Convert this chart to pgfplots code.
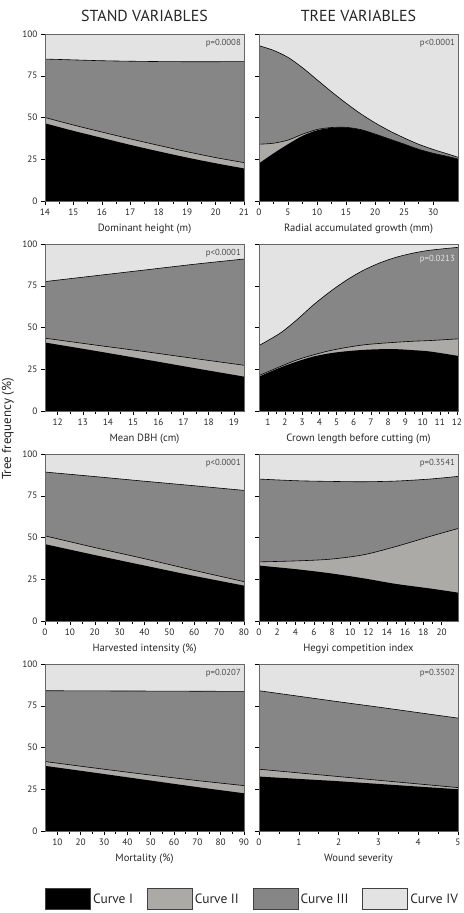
\documentclass[border=0pt]{standalone}
\usepackage{fontspec}
\setmainfont{PT Sans}
\usepackage{pgfplots}
\pgfplotsset{compat=1.18}
\usepackage{pgfplotstable}

\definecolor{cI}{HTML}{000000}
\definecolor{cII}{HTML}{ACAAA7}
\definecolor{cIII}{HTML}{868686}
\definecolor{cIV}{HTML}{E3E3E3}

% boundaries of the stacked frequency curves: b1 = top of Curve I,
% b2 = top of Curve II, b3 = top of Curve III (Curve IV reaches 100)
\pgfplotstableread{
x   b1   b2   b3
14  46.5 50.0 85.0
15  42.0 45.5 84.5
16  37.8 41.3 84.0
17  33.6 37.2 83.7
18  29.7 33.3 83.5
19  26.0 29.5 83.4
20  22.6 26.0 83.4
21  19.5 23.0 83.5
}\tabA
\pgfplotstableread{
x    b1   b2   b3
0    22.5 34.0 93.0
2.5  28.5 34.6 90.2
5    34.0 36.5 86.0
7.5  39.0 40.0 79.8
10   42.3 42.8 72.6
12.5 43.8 44.0 65.4
15   44.0 44.1 58.6
17.5 42.7 42.8 52.3
20   40.0 40.1 46.8
22.5 37.0 37.1 42.0
25   34.0 34.1 37.8
27.5 30.9 31.0 34.0
30   28.5 28.6 30.9
32.5 26.6 26.7 28.2
34.3 25.0 25.1 26.2
}\tabB
\pgfplotstableread{
x    b1   b2   b3
11.5 41.0 43.6 77.5
13.5 36.0 39.5 81.0
15.5 30.8 35.5 84.5
17.5 25.5 31.3 88.0
19.4 20.6 27.4 91.0
}\tabC
\pgfplotstableread{
x     b1   b2   b3
0.49  20.6 21.2 39.2
1.72  26.0 26.6 46.6
2.69  29.6 30.6 54.6
3.65  32.6 33.6 63.5
4.63  34.6 36.2 71.5
5.60  35.8 38.1 78.5
6.57  36.6 39.6 84.3
7.54  37.0 40.5 88.8
8.51  37.0 41.2 92.2
9.48  36.4 41.8 94.6
10.45 35.6 42.2 96.3
12.06 33.0 43.2 98.0
}\tabD
\pgfplotstableread{
x  b1   b2   b3
0  46.0 51.0 89.2
20 39.5 44.0 86.5
40 33.2 37.3 83.7
60 27.0 30.3 81.0
80 21.2 23.6 78.2
}\tabE
\pgfplotstableread{
x    b1   b2   b3
0    33.2 35.4 85.0
4.1  31.0 36.0 84.0
7.75 28.6 37.0 83.6
11.4 25.6 39.6 83.4
15.0 22.2 44.6 83.8
18.7 19.5 50.6 85.0
21.8 17.0 55.4 86.6
}\tabF
\pgfplotstableread{
x   b1   b2   b3
4.7 39.0 41.6 84.0
25  35.1 37.9 83.9
50  30.2 33.5 83.8
70  26.3 30.2 83.7
90  22.6 27.2 83.6
}\tabG
\pgfplotstableread{
x b1   b2   b3
0 32.6 37.0 84.0
1 31.2 34.8 80.7
2 29.8 32.6 77.4
3 28.2 30.4 74.2
4 26.6 28.2 70.9
5 25.0 26.0 67.6
}\tabH

\tikzset{pval/.style={anchor=east, inner sep=0pt,
  font=\fontsize{8.8}{8.8}\selectfont, text=black!70}}

\pgfplotsset{
  panel/.style={
    scale only axis, width=199bp, height=167bp,
    anchor=north west,
    ymin=0, ymax=100, ytick={0,25,50,75,100},
    axis on top,
    axis line style={draw=black!60, line width=0.5pt},
    tick style={draw=black, line width=0.5pt},
    tick align=outside,
    major tick length=4bp, minor tick length=2.5bp,
    xtick pos=bottom, ytick pos=left,
    minor x tick num=1,
    ticklabel style={font=\fontsize{9.3}{9.3}\selectfont, text=black!85},
    /pgf/number format/assume math mode=true,
    axis background/.style={fill=cIV},
    xlabel style={font=\fontsize{10.6}{10.6}\selectfont, text=black!85,
      at={(axis description cs:0.5,0)}, anchor=base, yshift=-30bp},
    title style={font=\fontsize{16}{16}\selectfont, text=black!85,
      at={(axis description cs:0.5,1)}, anchor=base, yshift=7bp},
  },
  rightpanel/.style={panel, yticklabels={}},
}

% stacked areas of one panel, with outlines on the Curve II and Curve III tops
\newcommand{\bands}[1]{%
  \addplot[fill=cIII, draw=none, smooth, forget plot] table[x=x,y=b3]{#1} \closedcycle;
  \addplot[fill=cII,  draw=none, smooth, forget plot] table[x=x,y=b2]{#1} \closedcycle;
  \addplot[fill=cI,   draw=none, smooth, forget plot] table[x=x,y=b1]{#1} \closedcycle;
  \addplot[black, line width=0.6pt, smooth, forget plot] table[x=x,y=b3]{#1};
  \addplot[black, line width=0.6pt, smooth, forget plot] table[x=x,y=b2]{#1};
}

\begin{document}
\begin{tikzpicture}
\path[use as bounding box] (0bp,0bp) rectangle (464bp,-913bp);

% ---- row 1
\begin{axis}[panel, at={(45bp,-34bp)}, xmin=14, xmax=21,
  xtick={14,15,16,17,18,19,20,21},
  xticklabels={14,15,16,17,18,19,20,21},
  title={STAND VARIABLES}, xlabel={Dominant height (m)}]
  \bands{\tabA}
  \node[pval] at (rel axis cs:1,1) [xshift=-3bp, yshift=-9bp] {p=0.0008};
\end{axis}
\begin{axis}[rightpanel, at={(259bp,-34bp)}, xmin=0, xmax=34.3, xtick={0,5,...,30},
  title={TREE VARIABLES}, xlabel={Radial accumulated growth (mm)}]
  \bands{\tabB}
  \node[pval] at (rel axis cs:1,1) [xshift=-3bp, yshift=-9bp] {p<0.0001};
\end{axis}

% ---- row 2
\begin{axis}[panel, at={(45bp,-244bp)}, xmin=11.5, xmax=19.4, xtick={12,...,19},
  xlabel={Mean DBH (cm)}]
  \bands{\tabC}
  \node[pval] at (rel axis cs:1,1) [xshift=-3bp, yshift=-9bp] {p<0.0001};
\end{axis}
\begin{axis}[rightpanel, at={(259bp,-244bp)}, xmin=0.49, xmax=12.06, xtick={1,...,12},
  xlabel={Crown length before cutting (m)}]
  \bands{\tabD}
  \node[pval, text=cIV] at (rel axis cs:1,1) [xshift=-3bp, yshift=-15bp] {p=0.0213};
\end{axis}

% ---- row 3
\begin{axis}[panel, at={(45bp,-454bp)}, xmin=0, xmax=80, xtick={0,10,...,80},
  xlabel={Harvested intensity (\%)}]
  \bands{\tabE}
  \node[pval] at (rel axis cs:1,1) [xshift=-3bp, yshift=-9bp] {p<0.0001};
\end{axis}
\begin{axis}[rightpanel, at={(259bp,-454bp)}, xmin=0, xmax=21.8, xtick={0,2,...,20},
  xlabel={Hegyi competition index}]
  \bands{\tabF}
  \node[pval] at (rel axis cs:1,1) [xshift=-3bp, yshift=-9bp] {p=0.3541};
\end{axis}

% ---- row 4
\begin{axis}[panel, at={(45bp,-664bp)}, xmin=4.7, xmax=90, xtick={10,20,...,90},
  xlabel={Mortality (\%)},
  legend columns=4,
  legend style={draw=none, fill=none, at={(axis description cs:0,0)},
    anchor=north west, yshift=-57bp, inner sep=0pt,
    font=\fontsize{13.5}{13.5}\selectfont, text=black!85,
    /tikz/every even column/.append style={column sep=12bp}},
  legend cell align=left,
  legend image code/.code={\draw[#1, draw=black!75, line width=0.9pt]
    (0bp,-10.5bp) rectangle (45bp,10.5bp);}]
  \bands{\tabG}
  \node[pval] at (rel axis cs:1,1) [xshift=-3bp, yshift=-9bp] {p=0.0207};
  \addlegendimage{fill=cI}   \addlegendentry{Curve I}
  \addlegendimage{fill=cII}  \addlegendentry{Curve II}
  \addlegendimage{fill=cIII} \addlegendentry{Curve III}
  \addlegendimage{fill=cIV}  \addlegendentry{Curve IV}
\end{axis}
\begin{axis}[rightpanel, at={(259bp,-664bp)}, xmin=0, xmax=5, xtick={0,...,5},
  xlabel={Wound severity}]
  \bands{\tabH}
  \node[pval] at (rel axis cs:1,1) [xshift=-3bp, yshift=-9bp] {p=0.3502};
\end{axis}

\node[rotate=90, font=\fontsize{13}{13}\selectfont, text=black!85] at (8bp,-429bp)
  {Tree frequency (\%)};
\end{tikzpicture}
\end{document}
